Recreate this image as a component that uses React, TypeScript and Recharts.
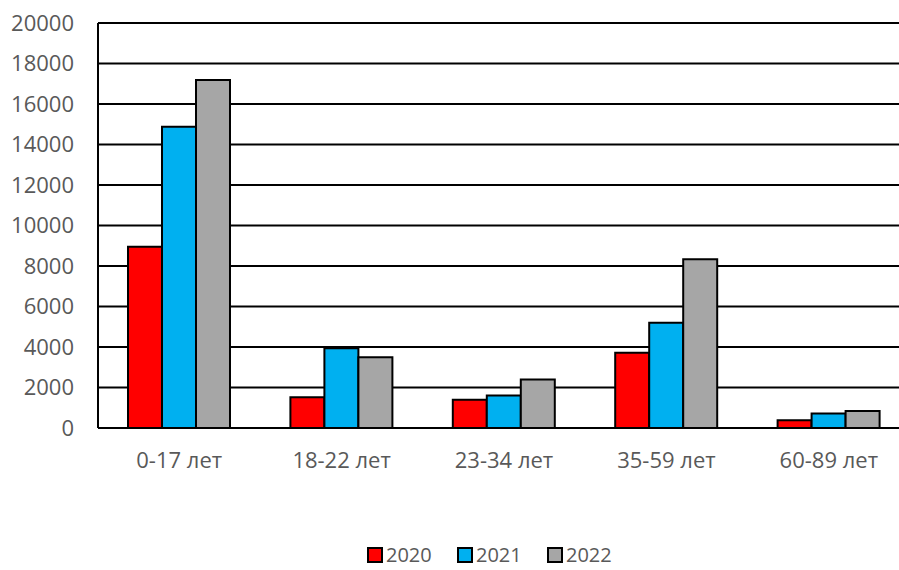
import React from "react";
import {
  BarChart,
  Bar,
  XAxis,
  YAxis,
  CartesianGrid,
  Legend,
} from "recharts";

const categories = ["0-17 лет", "18-22 лет", "23-34 лет", "35-59 лет", "60-89 лет"];
const values2020 = [8950, 1520, 1400, 3720, 380];
const values2021 = [14880, 3940, 1600, 5200, 720];
const values2022 = [17180, 3490, 2400, 8330, 840];
const yTicks = [0, 2000, 4000, 6000, 8000, 10000, 12000, 14000, 16000, 18000, 20000];

const series = [
  { key: "y2020", name: "2020", color: "#FF0000" },
  { key: "y2021", name: "2021", color: "#00B0F0" },
  { key: "y2022", name: "2022", color: "#A6A6A6" },
];

const data = categories.map((name, i) => ({
  name,
  y2020: values2020[i],
  y2021: values2021[i],
  y2022: values2022[i],
}));

const textColor = "#595959";

const renderLegend = (props: any) => {
  const { payload } = props;
  return (
    <div style={{ display: "flex", alignItems: "center", height: 20 }}>
      {payload.map((entry: any) => (
        <div
          key={entry.value}
          style={{ display: "flex", alignItems: "center", width: 90 }}
        >
          <span
            style={{
              display: "inline-block",
              width: 12,
              height: 12,
              background: entry.color,
              border: "2px solid #000",
              marginRight: 3,
            }}
          />
          <span style={{ color: textColor, fontSize: 20, lineHeight: "20px" }}>
            {entry.value}
          </span>
        </div>
      ))}
    </div>
  );
};

const App: React.FC = () => {
  return (
    <div
      style={{
        position: "fixed",
        left: 0,
        top: 0,
        width: 899,
        height: 570,
        overflow: "hidden",
        background: "#fff",
        fontFamily: "'Open Sans', sans-serif",
      }}
    >
      <BarChart
        width={920}
        height={570}
        data={data}
        margin={{ top: 23, right: 10, left: 0, bottom: 62 }}
        barCategoryGap={30}
        barGap={0}
      >
        <CartesianGrid vertical={false} stroke="#000" strokeWidth={2} />
        <XAxis
          dataKey="name"
          height={60}
          tickLine={false}
          axisLine={{ stroke: "#000", strokeWidth: 2 }}
          tickMargin={18}
          tick={{ fill: textColor, fontSize: 22 }}
          interval={0}
        />
        <YAxis
          width={98}
          domain={[0, 20000]}
          ticks={yTicks}
          interval={0}
          tickLine={false}
          axisLine={{ stroke: "#000", strokeWidth: 2 }}
          tickMargin={18}
          tick={{ fill: textColor, fontSize: 22 }}
        />
        <Legend
          verticalAlign="bottom"
          content={renderLegend}
          wrapperStyle={{ left: 367, top: 545, bottom: "auto", width: 300 }}
        />
        {series.map((s) => (
          <Bar
            key={s.key}
            dataKey={s.key}
            name={s.name}
            fill={s.color}
            stroke="#000"
            strokeWidth={2}
            isAnimationActive={false}
          />
        ))}
      </BarChart>
    </div>
  );
};

export default App;
